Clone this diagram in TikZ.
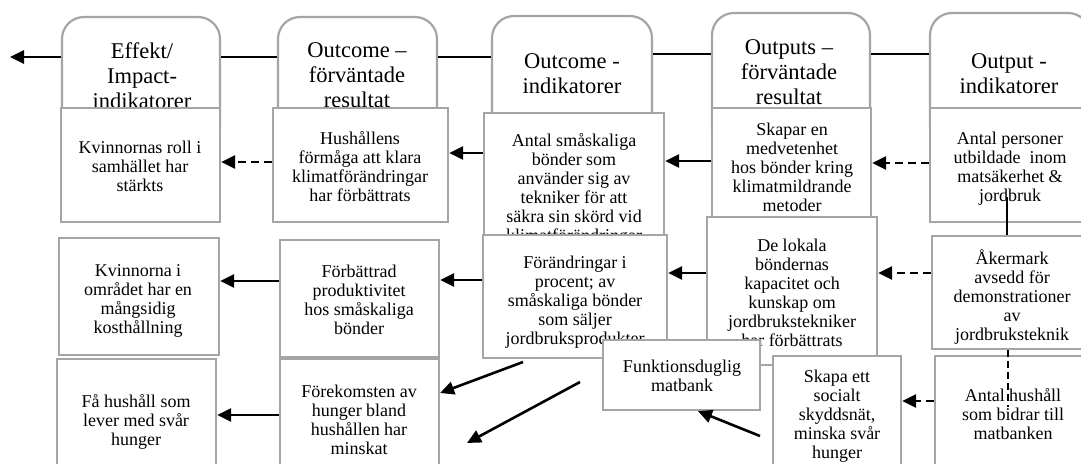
\documentclass[tikz,border=0pt]{standalone}
\usepackage{fontspec}
\setmainfont{Liberation Serif}
\usetikzlibrary{arrows.meta}
\definecolor{boxgray}{RGB}{165,165,165}
\tikzset{
  box/.style={draw=boxgray, line width=2.2pt, fill=white, inner sep=0pt},
  hdbox/.style={box, rounded corners=22pt},
  txt/.style={font=\fontsize{18}{19}\selectfont, align=center, inner sep=0pt,
    execute at begin node=\strut, execute at end node=\strut},
  hdtxt/.style={font=\fontsize{22.5}{25}\selectfont, align=center, inner sep=0pt,
    execute at begin node=\strut, execute at end node=\strut},
  plain/.style={draw=black, line width=2pt},
  arr/.style={draw=black, line width=2.6pt, -{Triangle[length=14pt,width=13pt]}},
  darr/.style={arr, dash pattern=on 8pt off 5pt},
  dplain/.style={plain, dash pattern=on 7pt off 4pt}
}
\begin{document}
\begin{tikzpicture}[x=1pt,y=-1pt]
\useasboundingbox (0,0) rectangle (1081,463);
\fill[white] (0,0) rectangle (1081,463);

% headers
\node[hdbox, minimum width=158pt, minimum height=133pt] (h1) at (141,83.5) {};
\node[hdtxt] (h1t) at (142,79) {Effekt/\\Impact-\\indikatorer};
\node[hdbox, minimum width=159pt, minimum height=133pt] (h2) at (357.5,83.5) {};
\node[hdtxt] (h2t) at (357,79) {Outcome –\\förväntade\\resultat};
\node[hdbox, minimum width=160pt, minimum height=134pt] (h3) at (572,83) {};
\node[hdtxt] (h3t) at (572,77.5) {Outcome -\\indikatorer};
\node[hdbox, minimum width=158pt, minimum height=137pt] (h4) at (791,81.5) {};
\node[hdtxt] (h4t) at (789,76) {Outputs –\\förväntade\\resultat};
\node[hdbox, minimum width=160pt, minimum height=137pt] (h5) at (1010,81.5) {};
\node[hdtxt] (h5t) at (1009,77) {Output -\\indikatorer};

\coordinate (yHa) at (0,57);
\coordinate (yHb) at (0,54);
\coordinate (lt) at (10,57);
\draw[arr] (h1.west |- yHa) -- (lt);
\draw[plain] (h1.east |- yHa) -- (h2.west |- yHa);
\draw[plain] (h2.east |- yHa) -- (h3.west |- yHa);
\draw[plain] (h3.east |- yHb) -- (h4.west |- yHb);
\draw[plain] (h4.east |- yHb) -- (h5.west |- yHb);

% row A
\node[box, minimum width=159pt, minimum height=114pt] (a1) at (140.5,165) {};
\node[txt] (a1t) at (140,169.5) {Kvinnornas roll i\\samhället har\\stärkts};
\node[box, minimum width=175pt, minimum height=114pt] (a2) at (360.5,165) {};
\node[txt] (a2t) at (360,169.5) {Hushållens\\förmåga att klara\\klimatförändringar\\har förbättrats};
\node[box, minimum width=180pt, minimum height=149pt] (a3) at (574,187.5) {};
\node[txt] (a3t) at (574,190.5) {Antal småskaliga\\bönder som\\använder sig av\\tekniker för att\\säkra sin skörd vid\\klimatförändringar};
\node[box, minimum width=159pt, minimum height=109pt] (a4) at (791.5,162.5) {};
\node[txt] (a4t) at (792,170.5) {Skapar en\\medvetenhet\\hos bönder kring\\klimatmildrande\\metoder};
\node[box, minimum width=165pt, minimum height=114pt] (a5) at (1012.5,165) {};
\node[txt] (a5t) at (1010,169.5) {Antal personer\\utbildade~ inom\\matsäkerhet \&\\jordbruk};

% row B
\node[box, minimum width=160pt, minimum height=117pt] (b1) at (139,296.5) {};
\node[txt] (b1t) at (138,301.5) {Kvinnorna i\\området har en\\mångsidig\\kosthållning};
\node[box, minimum width=159pt, minimum height=117pt] (b2) at (359.5,298.5) {};
\node[txt] (b2t) at (359,302.5) {Förbättrad\\produktivitet\\hos småskaliga\\bönder};
\node[box, minimum width=184pt, minimum height=123pt] (b3) at (575,296.5) {};
\node[txt] (b3t) at (575,303) {Förändringar i\\procent; av\\småskaliga bönder\\som säljer\\jordbruksprodukter};
\node[box, minimum width=170pt, minimum height=148pt] (b4) at (792,291) {};
\node[txt] (b4t) at (792,296) {De lokala\\böndernas\\kapacitet och\\kunskap om\\jordbrukstekniker\\har förbättrats};
\node[box, minimum width=163pt, minimum height=113pt] (b5) at (1013.5,292.5) {};
\node[txt] (b5t) at (1012,298) {Åkermark\\avsedd för\\demonstrationer\\av\\jordbruksteknik};

% food bank
\node[box, minimum width=157pt, minimum height=70pt] (f) at (681.5,375) {};
\node[txt] (ft) at (682,379) {Funktionsduglig\\matbank};

% row C
\node[box, minimum width=159pt, minimum height=121pt] (c1) at (136.5,419.5) {};
\node[txt] (c1t) at (136,423) {Få hushåll som\\lever med svår\\hunger};
\node[box, minimum width=159pt, minimum height=121pt] (c2) at (359.5,419.5) {};
\node[txt] (c2t) at (359,422.5) {Förekomsten av\\hunger bland\\hushållen har\\minskat};
\node[box, minimum width=128pt, minimum height=124pt] (c4) at (837,418) {};
\node[txt] (c4t) at (837,417.5) {Skapa ett\\socialt\\skyddsnät,\\minska svår\\hunger};
\node[box, minimum width=160pt, minimum height=124pt] (c5) at (1015,418) {};
\node[txt] (c5t) at (1013,416.5) {Antal hushåll\\som bidrar till\\matbanken};

% connectors row A
\coordinate (ya1) at (0,162);
\coordinate (ya2) at (0,153);
\coordinate (ya3) at (0,161);
\coordinate (ya4) at (0,163);
\draw[darr] (a2.west |- ya1) -- (a1.east |- ya1);
\draw[arr] (a3.west |- ya2) -- (a2.east |- ya2);
\draw[arr] (a4.west |- ya3) -- (a3.east |- ya3);
\draw[darr] (a5.west |- ya4) -- (a4.east |- ya4);
\coordinate (v1) at (1007,197);
\draw[plain] (v1) -- (v1 |- b5.north);

% connectors row B
\coordinate (yb1) at (0,281);
\coordinate (yb2) at (0,280);
\coordinate (yb3) at (0,273);
\draw[arr] (b2.west |- yb1) -- (b1.east |- yb1);
\draw[arr] (b3.west |- yb2) -- (b2.east |- yb2);
\draw[arr] (b4.west |- yb3) -- (b3.east |- yb3);
\draw[darr] (b5.west |- yb3) -- (b4.east |- yb3);
\coordinate (v2) at (1008,407);
\draw[dplain] (b5.south -| v2) -- (v2);

% connectors row C
\coordinate (yc1) at (0,415);
\coordinate (yc2) at (0,401);
\draw[arr] (c2.west |- yc1) -- (c1.east |- yc1);
\draw[darr] (c5.west |- yc2) -- (c4.east |- yc2);
\coordinate (s3) at (760,436);
\coordinate (t3) at (698,0);
\draw[arr] (s3) -- (f.south -| t3);
\coordinate (s1) at (523,362);
\coordinate (yt1) at (0,393);
\draw[arr] (s1) -- (c2.east |- yt1);
\coordinate (s2) at (580,382);
\coordinate (e2) at (467,443);
\draw[arr] (s2) -- (e2);
\end{tikzpicture}
\end{document}
